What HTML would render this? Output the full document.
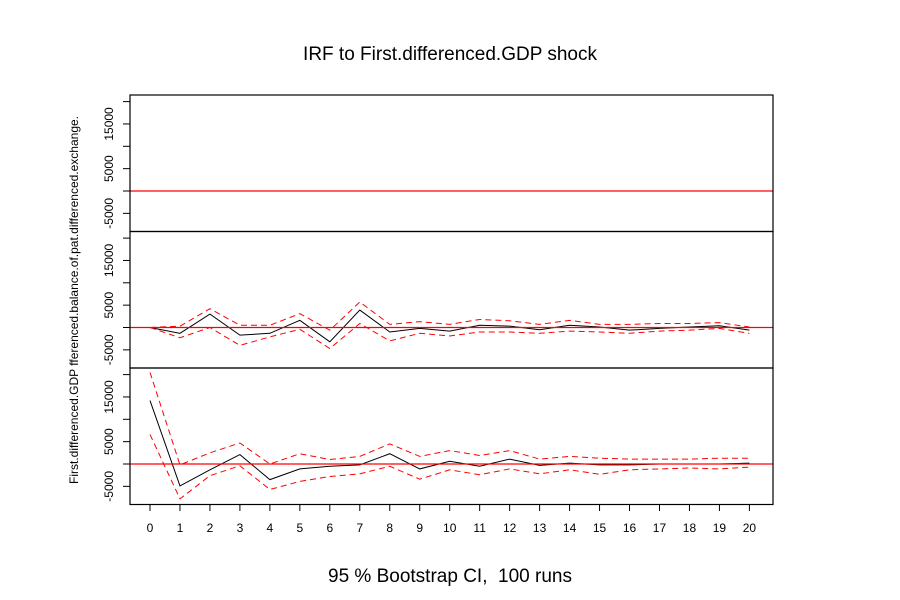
<!DOCTYPE html>
<html><head><meta charset="utf-8"><style>body{margin:0;background:#fff}svg{display:block}text{font-family:"Liberation Sans",Arial,sans-serif}</style></head>
<body>
<svg id="c" width="900" height="600" xmlns="http://www.w3.org/2000/svg">
<text x="450" y="60" font-size="19" text-anchor="middle">IRF to First.differenced.GDP shock</text>
<text x="450" y="582" font-size="19" text-anchor="middle" style="white-space:pre">95 % Bootstrap CI,  100 runs</text>
<text transform="translate(78,300) rotate(-90)" font-size="12" text-anchor="middle">First.differenced.GDP fferenced.balance.of.pat.differenced.exchange.</text>
<g id="g"></g>
</svg>
<script>
const steps = [0,1,2,3,4,5,6,7,8,9,10,11,12,13,14,15,16,17,18,19,20];
const yTicks = [20000,15000,10000,5000,0,-5000];
const yLabels = [15000,5000,-5000];
const midIrf = [0,-1300,3000,-1700,-1300,1600,-3200,3900,-1000,-200,-800,500,300,-500,500,100,-600,-200,100,400,-600];
const midUpper = [0,300,4200,500,500,3100,-600,5700,700,1300,700,1800,1500,700,1600,700,700,900,900,1100,100];
const midLower = [0,-2300,0,-4000,-2100,-400,-4700,900,-3000,-1300,-1900,-1000,-1000,-1300,-800,-1000,-1300,-800,-600,-200,-1300];
const gdpIrf = [14200,-4900,-1300,2100,-3500,-1100,-500,-200,2300,-1100,600,-500,1100,-300,200,-200,-200,0,0,0,200];
const gdpUpper = [20500,-200,2500,4700,0,2300,1000,1700,4500,1700,3000,1900,3000,1100,1700,1300,1100,1100,1100,1300,1300];
const gdpLower = [6600,-7800,-2600,-400,-5700,-3900,-2800,-2200,-500,-3400,-1300,-2400,-1100,-2200,-1300,-2300,-1300,-1100,-900,-1100,-700];

const NS="http://www.w3.org/2000/svg", g=document.getElementById('g');
const L=130,R=773,panelTops=[95,231.5,368],PH=136.5,PXK=4.47/1000,ZOFF=96;
const xS=i=>150+i*29.97;
function mk(t,a,p){const e=document.createElementNS(NS,t);for(const k in a)e.setAttribute(k,a[k]);(p||g).appendChild(e);return e;}
const panels=[{name:'exchange',series:null},{name:'balance',series:[midIrf,midUpper,midLower]},{name:'gdp',series:[gdpIrf,gdpUpper,gdpLower]}];
panels.forEach((p,pi)=>{
  const top=panelTops[pi], yS=v=>top+ZOFF-v*PXK;
  const pg=mk('g',{});
  
  
  yTicks.forEach(v=>{const t=mk('line',{x1:L,x2:L-7,y1:yS(v),y2:yS(v),stroke:'#000'},pg);
    
    });
  yLabels.forEach(v=>{const t=mk('text',{transform:`translate(${L-17},${yS(v)}) rotate(-90)`,'font-size':12,'text-anchor':'middle'},pg);t.textContent=v;
    
    });
  if(p.series){
    const styles=[{s:'#000',d:''},{s:'#f00',d:'6 4'},{s:'#f00',d:'6 4'}];
    p.series.forEach((arr,si)=>{
      const pts=arr.map((v,i)=>xS(steps[i])+','+yS(v)).join(' ');
      const pl=mk('polyline',{points:pts,fill:'none',stroke:styles[si].s,'stroke-width':1,'stroke-dasharray':styles[si].d},pg);
      
      
    });
  }
  const z=mk('line',{x1:L,x2:R,y1:yS(0),y2:yS(0),stroke:'#f00','stroke-width':1.2},pg);
  
  
  const b=mk('rect',{x:L,y:top,width:R-L,height:PH,fill:'none',stroke:'#000','stroke-width':1.2},pg);
  
  
});
steps.forEach(s=>{
  const t=mk('line',{x1:xS(s),x2:xS(s),y1:504.5,y2:511,stroke:'#000'});
  
  
  const l=mk('text',{x:xS(s),y:532,'font-size':12,'text-anchor':'middle'});l.textContent=s;
  
  
});
</script>
</body></html>
